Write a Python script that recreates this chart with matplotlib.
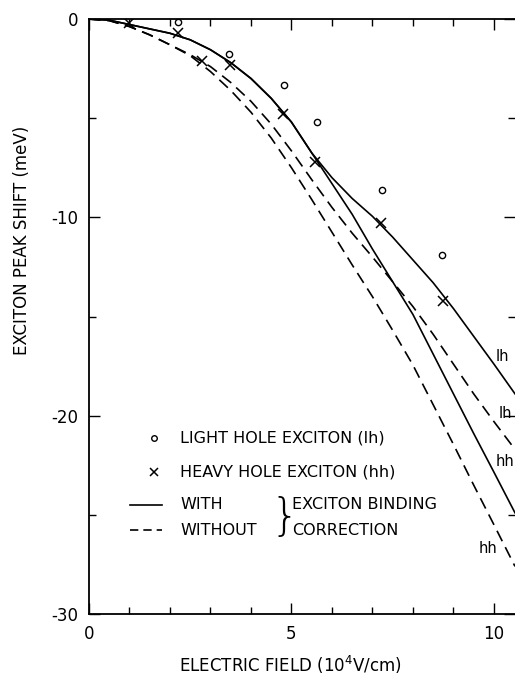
import matplotlib
matplotlib.use("Agg")
import matplotlib.pyplot as plt

# field values (10^4 V/cm) and peak shifts (meV)
field = [0, 0.5, 1, 1.5, 2, 2.5, 3, 3.5, 4, 4.5, 5, 5.5, 6, 6.5, 7, 7.5,
         8, 8.5, 9, 9.5, 10, 10.52]

lh_with = [0, -0.06, -0.28, -0.5, -0.72, -1.05, -1.55, -2.2, -3.0, -4.0, -5.2,
           -6.75, -8.0, -9.05, -9.95, -11.0, -12.15, -13.3, -14.6, -16.0,
           -17.4, -18.9]
hh_with = [0, -0.06, -0.28, -0.5, -0.72, -1.05, -1.55, -2.2, -3.0, -4.0, -5.2,
           -6.75, -8.3, -9.85, -11.6, -13.25, -14.9, -16.9, -18.9, -20.9,
           -22.85, -24.9]
lh_without = [0, -0.08, -0.38, -0.8, -1.3, -1.8, -2.4, -3.2, -4.15, -5.3,
              -6.65, -8.1, -9.5, -10.8, -12.0, -13.25, -14.5, -15.9, -17.4,
              -18.9, -20.3, -21.7]
hh_without = [0, -0.08, -0.38, -0.8, -1.3, -1.85, -2.65, -3.6, -4.7, -6.0,
              -7.5, -9.1, -10.75, -12.4, -14.0, -15.7, -17.45, -19.45, -21.45,
              -23.5, -25.5, -27.6]

lh_x = [2.2, 3.46, 4.82, 5.62, 7.23, 8.72]
lh_y = [-0.15, -1.75, -3.35, -5.2, -8.6, -11.9]
hh_x = [1.0, 2.2, 2.8, 3.48, 4.78, 5.58, 7.2, 8.75]
hh_y = [-0.2, -0.7, -2.1, -2.3, -4.8, -7.2, -10.3, -14.2]

curve_labels = ["lh", "lh", "hh", "hh"]

fig = plt.figure(figsize=(5.15, 6.8), dpi=100)
ax = fig.add_axes([89 / 515, 1 - 614 / 680, 426 / 515, 595 / 680])

lw = 1.2
dash = (7, 4)
ax.plot(field, lh_with, color="black", lw=lw)
ax.plot(field, hh_with, color="black", lw=lw)
ax.plot(field, lh_without, color="black", lw=lw, dashes=dash)
ax.plot(field, hh_without, color="black", lw=lw, dashes=dash)

ax.plot(lh_x, lh_y, "o", ms=4.5, mfc="white", mec="black", mew=1.0)
ax.plot(hh_x, hh_y, "x", ms=6.5, color="black", mew=1.1)

# curve end labels
ends = [(10.2, -17.0), (10.27, -19.9), (10.27, -22.3), (9.85, -26.7)]
for (tx, ty), lab in zip(ends, curve_labels):
    ax.text(tx, ty, lab, fontsize=10.5, ha="center", va="center")

ax.set_xlim(0, 10.52)
ax.set_ylim(-30, 0)
ax.set_xticks([0, 5, 10])
ax.set_xticks(range(0, 11), minor=True)
ax.set_yticks([0, -10, -20, -30])
ax.set_yticklabels(["0", "-10", "-20", "-30"])
ax.set_yticks([-5, -15, -25], minor=True)
ax.tick_params(which="both", direction="in", top=True, right=True,
               labelsize=12, width=1.0, pad=8)
ax.tick_params(which="major", length=8)
ax.tick_params(which="minor", length=5)
ax.spines["right"].set_visible(False)
for s in ["left", "bottom", "top"]:
    ax.spines[s].set_linewidth(1.3)

# legend block
ax.plot([1.6], [-21.13], "o", ms=4, mfc="white", mec="black", mew=1.0)
ax.plot([1.6], [-22.84], "x", ms=6, color="black", mew=1.1)
ax.plot([1.01, 1.8], [-24.5, -24.5], color="black", lw=lw)
ax.plot([1.01, 1.8], [-25.77, -25.77], color="black", lw=lw, dashes=(5, 3))
fs = 11.5
ax.text(2.25, -21.13, "LIGHT HOLE EXCITON (lh)", fontsize=fs, va="center")
ax.text(2.25, -22.84, "HEAVY HOLE EXCITON (hh)", fontsize=fs, va="center")
ax.text(2.25, -24.5, "WITH", fontsize=fs, va="center")
ax.text(2.25, -25.77, "WITHOUT", fontsize=fs, va="center")
ax.text(4.82, -25.15, "}", fontsize=32, va="center", ha="center",
        fontweight="light")
ax.text(5.02, -24.5, "EXCITON BINDING", fontsize=fs, va="center")
ax.text(5.02, -25.77, "CORRECTION", fontsize=fs, va="center")

fig.text(290 / 515, 1 - 665 / 680, "ELECTRIC FIELD (10$^4$V/cm)",
         ha="center", va="center", fontsize=12)
fig.text(22 / 515, 1 - 240 / 680, "EXCITON PEAK SHIFT (meV)",
         ha="center", va="center", rotation=90, fontsize=12)

fig.savefig("out.png", dpi=100)
